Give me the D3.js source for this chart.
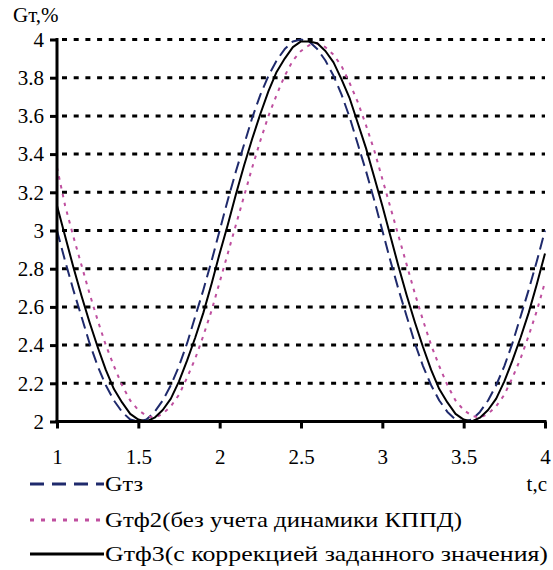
<!DOCTYPE html>
<html>
<head>
<meta charset="utf-8">
<script src="https://cdn.jsdelivr.net/npm/d3@7/dist/d3.min.js"></script>
<style>
  html, body { margin: 0; padding: 0; background: #fff; }
  svg { display: block; }
  svg text { fill: #000; }
</style>
</head>
<body>
<svg id="chart" width="553" height="570"></svg>
<script>
// time samples, s (step 0.05 from 1 to 4)
const time = d3.range(61).map(i => +(1 + i * 0.05).toFixed(2));

// Gтз — set-point
const gtz = [3.00, 2.84, 2.69, 2.55, 2.41, 2.29, 2.19, 2.11, 2.05, 2.01,
             2.00, 2.01, 2.05, 2.11, 2.19, 2.29, 2.41, 2.55, 2.69, 2.84,
             3.00, 3.16, 3.31, 3.45, 3.59, 3.71, 3.81, 3.89, 3.95, 3.99,
             4.00, 3.99, 3.95, 3.89, 3.81, 3.71, 3.59, 3.45, 3.31, 3.16,
             3.00, 2.84, 2.69, 2.55, 2.41, 2.29, 2.19, 2.11, 2.05, 2.01,
             2.00, 2.01, 2.05, 2.11, 2.19, 2.29, 2.41, 2.55, 2.69, 2.84,
             3.00];

// Gтф2 — without efficiency dynamics
const gtf2 = [3.33, 3.13, 2.97, 2.82, 2.67, 2.53, 2.40, 2.29, 2.19, 2.11,
              2.06, 2.03, 2.02, 2.04, 2.08, 2.14, 2.23, 2.33, 2.45, 2.58,
              2.73, 2.88, 3.03, 3.18, 3.33, 3.47, 3.60, 3.71, 3.81, 3.89,
              3.94, 3.97, 3.98, 3.96, 3.92, 3.86, 3.77, 3.67, 3.55, 3.42,
              3.27, 3.12, 2.97, 2.82, 2.67, 2.53, 2.40, 2.29, 2.19, 2.11,
              2.06, 2.03, 2.02, 2.04, 2.08, 2.14, 2.23, 2.33, 2.45, 2.58,
              2.73];

// Gтф3 — with set-point correction
const gtf3 = [3.13, 2.97, 2.81, 2.66, 2.52, 2.39, 2.27, 2.17, 2.10, 2.04,
              2.01, 2.00, 2.02, 2.06, 2.12, 2.21, 2.32, 2.44, 2.57, 2.72,
              2.88, 3.03, 3.19, 3.34, 3.48, 3.61, 3.73, 3.83, 3.90, 3.96,
              3.99, 3.99, 3.98, 3.94, 3.88, 3.79, 3.69, 3.56, 3.43, 3.28,
              3.13, 2.97, 2.81, 2.66, 2.52, 2.39, 2.27, 2.17, 2.10, 2.04,
              2.01, 2.00, 2.02, 2.06, 2.12, 2.21, 2.32, 2.44, 2.57, 2.72,
              2.88];

const xTicks = [1, 1.5, 2, 2.5, 3, 3.5, 4];
const yTicks = [2, 2.2, 2.4, 2.6, 2.8, 3, 3.2, 3.4, 3.6, 3.8, 4];

const seriesNames = ["Gтз", "Gтф2(без учета динамики КППД)", "Gтф3(с коррекцией заданного значения)"];

const svg = d3.select("#chart");
const plot = { left: 57, right: 545, top: 39.5, bottom: 421.5 };
const FONT = '"Liberation Serif", "Times New Roman", Times, "DejaVu Serif", serif';

const x = d3.scaleLinear().domain([1, 4]).range([plot.left, plot.right]);
const y = d3.scaleLinear().domain([2, 4]).range([plot.bottom, plot.top]);

// dotted horizontal gridlines
svg.append("g")
  .selectAll("line")
  .data(yTicks.filter(v => v > 2))
  .join("line")
  .attr("x1", plot.left + 5).attr("x2", plot.right)
  .attr("y1", d => y(d)).attr("y2", d => y(d))
  .attr("stroke", "#000")
  .attr("stroke-width", 3)
  .attr("stroke-dasharray", "5,6.7");

const styles = [
  { color: "#1f2a6c", width: 2, dash: "12,6", legendWidth: 3, legendDash: "14,8" },
  { color: "#bf4f9f", width: 2, dash: "3.5,5.5", legendWidth: 3, legendDash: "4,7" },
  { color: "#000000", width: 2, dash: null, legendWidth: 3, legendDash: null }
];
const data = [gtz, gtf2, gtf3];

const line = d3.line()
  .x((d, i) => x(time[i]))
  .y(d => y(d));

data.forEach((vals, k) => {
  svg.append("path")
    .datum(vals)
    .attr("fill", "none")
    .attr("stroke", styles[k].color)
    .attr("stroke-width", styles[k].width)
    .attr("stroke-dasharray", styles[k].dash)
    .attr("stroke-linejoin", "round")
    .attr("d", line);
});

// axes
const yAxis = svg.append("g")
  .attr("transform", `translate(${plot.left},0)`)
  .call(d3.axisLeft(y).tickValues(yTicks).tickSize(7).tickPadding(6)
        .tickFormat(d3.format("~g")));
const xAxis = svg.append("g")
  .attr("transform", `translate(0,${plot.bottom})`)
  .call(d3.axisBottom(x).tickValues(xTicks).tickSize(7).tickPadding(21)
        .tickFormat(d3.format("~g")));

[yAxis, xAxis].forEach(a => {
  a.attr("font-family", FONT).attr("font-size", 21);
  a.select(".domain").attr("stroke", "#000").attr("stroke-width", 3)
    .attr("d", a === yAxis
      ? `M0,${plot.bottom + 1.5}V${plot.top - 1.5}`
      : `M${plot.left - 1.5},0H${plot.right + 1.5}`);
  a.selectAll(".tick line").attr("stroke", "#000").attr("stroke-width", 3);
  a.selectAll(".tick text").attr("fill", "#000");
});

// axis titles
svg.append("text").attr("x", 13).attr("y", 22)
  .attr("font-family", FONT).attr("font-size", 21)
  .text("Gт,%");
svg.append("text").attr("x", 547).attr("y", 491).attr("text-anchor", "end")
  .attr("font-family", FONT).attr("font-size", 21).text("t,c");

// legend
const legendRows = [484, 520, 554];
const legendTextWidth = [38, 357, 443];
seriesNames.forEach((name, k) => {
  const g = svg.append("g");
  g.append("line")
    .attr("x1", 30).attr("x2", 104)
    .attr("y1", legendRows[k]).attr("y2", legendRows[k])
    .attr("stroke", styles[k].color)
    .attr("stroke-width", styles[k].legendWidth)
    .attr("stroke-dasharray", styles[k].legendDash);
  g.append("text")
    .attr("x", 105).attr("y", legendRows[k] + 7)
    .attr("font-family", FONT).attr("font-size", 21)
    .attr("textLength", legendTextWidth[k])
    .attr("lengthAdjust", "spacingAndGlyphs")
    .text(name);
});
</script>
</body>
</html>
